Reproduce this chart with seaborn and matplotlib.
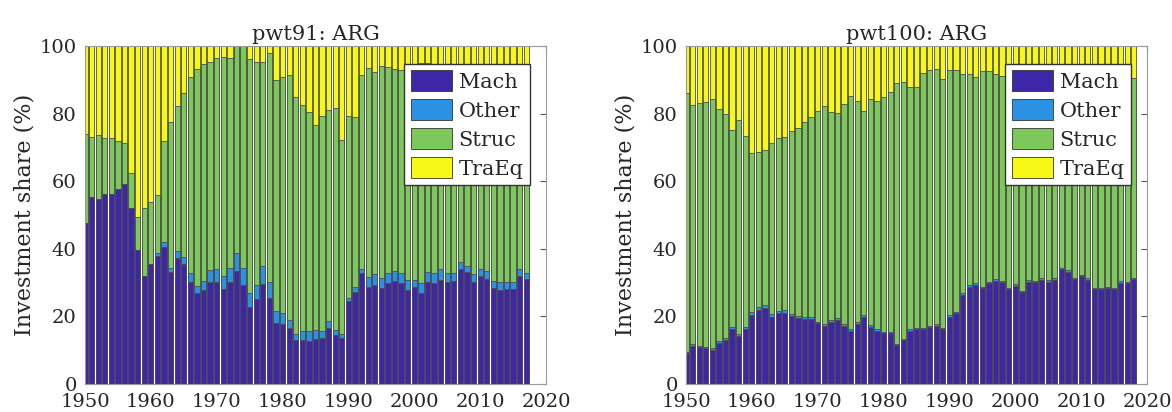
import numpy as np
import pandas as pd
import matplotlib
matplotlib.use("Agg")
import matplotlib.pyplot as plt
import seaborn as sns
from matplotlib.patches import Patch

# ── Data (investment shares in %) ─────────────────────────────────────────────
years91 = list(range(1950, 2018))
mach91 = [47.5, 55.4, 54.6, 56.2, 56.2, 57.6, 59.1, 52.2, 39.6, 31.8,
          35.4, 37.9, 40.6, 33.0, 37.2, 35.4, 30.3, 26.8, 27.8, 30.1,
          30.1, 28.0, 30.1, 33.5, 29.3, 22.9, 25.0, 29.6, 25.3, 17.9,
          17.7, 16.5, 13.0, 13.0, 12.7, 13.3, 13.5, 16.5, 14.4, 13.5,
          24.6, 27.1, 32.7, 28.6, 29.3, 28.3, 29.8, 30.5, 29.8, 27.8,
          28.8, 27.0, 30.3, 29.8, 30.8, 30.1, 30.6, 33.9, 33.0, 30.1,
          31.8, 31.1, 28.3, 27.8, 28.0, 28.0, 31.8, 31.0]
other91 = [0.0, 0.0, 0.0, 0.0, 0.0, 0.0, 0.0, 0.0, 0.0, 0.0,
           0.0, 0.8, 1.3, 1.2, 2.0, 2.3, 2.4, 2.2, 2.8, 3.6,
           3.8, 4.0, 4.3, 5.2, 4.9, 3.9, 4.3, 5.3, 5.0, 3.8,
           3.2, 2.5, 1.8, 2.8, 3.1, 2.7, 2.2, 2.1, 1.7, 1.4,
           0.7, 1.5, 1.2, 3.0, 3.1, 3.0, 3.1, 3.0, 2.9, 3.0,
           2.0, 2.8, 2.7, 3.1, 3.1, 2.6, 2.1, 2.1, 2.0, 2.4,
           2.1, 2.3, 2.2, 2.3, 2.3, 2.3, 2.1, 1.9]
struc_top91 = [74.0, 73.2, 73.7, 72.9, 72.7, 72.0, 71.2, 62.5, 49.3, 52.0,
               53.7, 55.9, 72.0, 77.6, 82.1, 86.0, 90.9, 93.1, 94.7, 95.3,
               96.4, 96.8, 96.4, 100.0, 100.0, 96.2, 95.4, 95.4, 97.8, 89.9,
               90.9, 91.4, 85.0, 82.5, 80.6, 76.6, 79.3, 81.1, 81.6, 72.2,
               79.3, 79.1, 91.4, 93.4, 92.4, 94.1, 93.9, 93.2, 92.9, 93.5,
               94.8, 95.0, 95.0, 94.0, 93.0, 93.0, 93.0, 93.5, 93.0, 93.5,
               93.0, 93.0, 93.5, 93.5, 93.0, 93.0, 93.5, 93.0]

years100 = list(range(1950, 2019))
mach100 = [9.1, 11.2, 10.8, 10.6, 10.1, 12.1, 13.0, 16.2, 14.2, 16.3,
           20.4, 21.9, 22.6, 19.9, 20.9, 21.1, 20.1, 19.4, 19.1, 19.1,
           17.9, 17.3, 18.4, 18.9, 17.2, 15.8, 17.7, 19.9, 17.0, 15.8,
           15.0, 15.0, 11.5, 13.0, 15.8, 16.2, 16.3, 16.8, 17.3, 16.2,
           19.9, 20.9, 26.3, 28.8, 29.3, 28.3, 29.8, 30.6, 30.1, 28.0,
           29.0, 27.1, 30.3, 30.1, 30.8, 30.3, 30.8, 33.9, 33.2, 31.0,
           31.8, 30.8, 28.0, 28.0, 28.3, 28.0, 30.0, 29.8, 31.0]
other100 = [0.4, 0.5, 0.5, 0.4, 0.5, 0.5, 0.5, 0.6, 0.5, 0.6,
            0.8, 0.9, 0.9, 0.7, 0.8, 0.8, 0.6, 0.6, 0.6, 0.6,
            0.5, 0.5, 0.5, 0.5, 0.5, 0.5, 0.5, 0.5, 0.5, 0.5,
            0.5, 0.5, 0.4, 0.4, 0.4, 0.4, 0.4, 0.4, 0.4, 0.4,
            0.5, 0.5, 0.6, 0.5, 0.5, 0.5, 0.5, 0.5, 0.5, 0.5,
            0.5, 0.5, 0.5, 0.5, 0.5, 0.5, 0.5, 0.5, 0.5, 0.5,
            0.5, 0.5, 0.5, 0.5, 0.5, 0.5, 0.5, 0.5, 0.5]
struc_top100 = [86.0, 82.5, 83.2, 83.5, 84.2, 81.4, 79.9, 75.1, 78.1, 73.5,
                68.4, 68.7, 69.2, 71.2, 72.7, 73.2, 74.7, 75.6, 77.6, 78.9,
                80.8, 82.1, 80.4, 80.3, 82.8, 85.2, 83.8, 80.9, 84.2, 83.8,
                84.8, 86.5, 89.0, 89.3, 88.0, 88.0, 92.1, 92.9, 93.3, 90.1,
                92.9, 92.9, 91.7, 91.7, 90.7, 92.7, 92.6, 91.6, 91.1, 92.0,
                92.5, 93.0, 93.0, 92.5, 92.5, 93.0, 92.5, 93.0, 92.5, 93.0,
                92.5, 92.5, 93.0, 92.5, 92.5, 93.0, 92.5, 92.5, 90.4]

categories = ["Mach", "Other", "Struc", "TraEq"]
colors = ["#3e26a8", "#2b91e3", "#7cc85a", "#f8f817"]
titles = ["pwt91: ARG", "pwt100: ARG"]

# ── Style ─────────────────────────────────────────────────────────────────────
sns.set_style("white")
plt.rcParams["font.family"] = ["DejaVu Serif"]

fig = plt.figure(figsize=(11.72, 4.12), dpi=100)
ax_left = fig.add_axes([0.0725, 0.068, 0.3934, 0.8204])
ax_right = fig.add_axes([0.5853, 0.068, 0.3934, 0.8204])


def stacked(ax, years, mach, other, struc_top, title):
    mach = np.array(mach)
    other_top = mach + np.array(other)
    struc_top = np.array(struc_top)
    layers = [np.full(len(years), 100.0), struc_top, other_top, mach]
    # draw from the top of the stack down so lower layers overlay upper ones
    for vals, col in zip(layers, colors[::-1]):
        df = pd.DataFrame({"year": years, "share": vals})
        sns.barplot(data=df, x="year", y="share", native_scale=True,
                    color=col, saturation=1, width=0.8,
                    edgecolor="#4d4d4d", linewidth=0.6, ax=ax)

    ax.set_xlim(1950, 2020)
    ax.set_ylim(0, 100)
    ax.set_xticks(range(1950, 2021, 10))
    ax.set_yticks(range(0, 101, 20))
    ax.set_xlabel("")
    ax.set_ylabel("Investment share (%)", fontsize=16, labelpad=3)
    ax.set_title(title, fontsize=15, pad=4)
    ax.tick_params(direction="in", length=4, labelsize=14,
                   top=True, right=True, color="#555555")
    ax.tick_params(axis="x", pad=6.5)
    ax.tick_params(axis="y", pad=6)
    for sp in ax.spines.values():
        sp.set_color("#9a9a9a")
        sp.set_linewidth(0.8)

    handles = [Patch(facecolor=c, edgecolor="#333333", linewidth=0.6)
               for c in colors]
    ax.legend(handles, categories, loc="upper right",
              bbox_to_anchor=(0.965, 0.947), fontsize=15,
              handlelength=2.0, handleheight=1.18, handletextpad=0.3,
              labelspacing=0.36, borderpad=0.3, borderaxespad=0.0,
              frameon=True, fancybox=False, edgecolor="#333333",
              framealpha=1)


stacked(ax_left, years91, mach91, other91, struc_top91, titles[0])
stacked(ax_right, years100, mach100, other100, struc_top100, titles[1])

fig.savefig("out.png", dpi=100)
